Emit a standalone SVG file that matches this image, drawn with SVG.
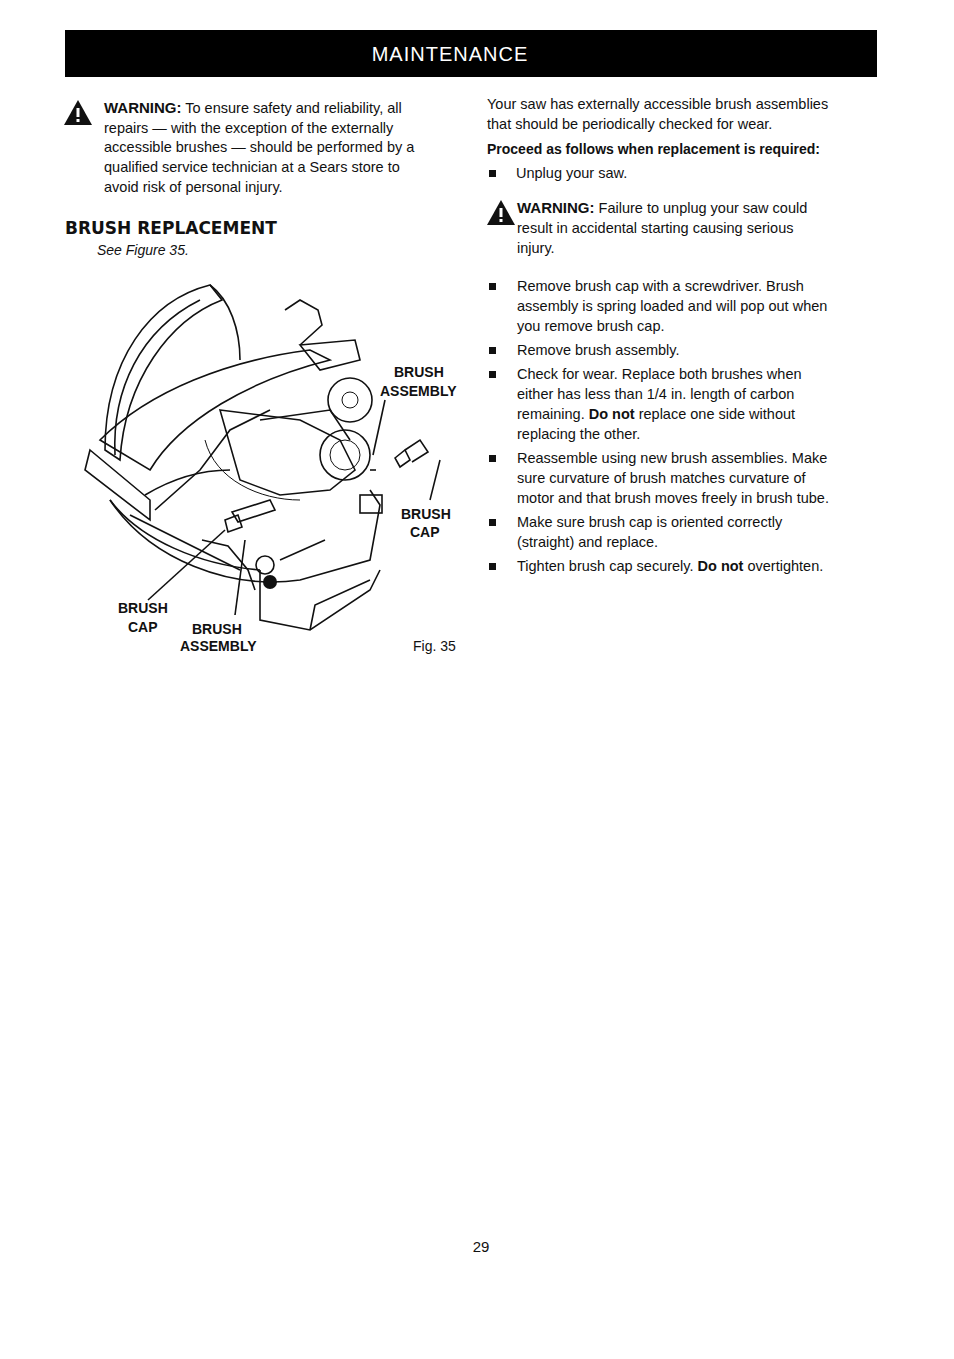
<svg xmlns="http://www.w3.org/2000/svg" width="954" height="1359" viewBox="0 0 954 1359">
<style>
text{font-family:"Liberation Sans",Arial,sans-serif;font-size:14.5px;fill:#111}
.b{font-weight:bold}
.lbl{font-family:"Liberation Sans",Arial,sans-serif;font-size:14px;font-weight:bold;transform-box:fill-box}
.ln{fill:none;stroke:#111;stroke-width:1.6}
.th{fill:none;stroke:#111;stroke-width:1}
</style>
<defs>
<g id="warn"><polygon points="14,0 28,25 0,25" fill="#111"/><rect x="12.5" y="8" width="3" height="9" fill="#fff"/><rect x="12.5" y="19" width="3" height="3" fill="#fff"/></g>
<rect id="sq" width="7" height="7" fill="#111"/>
</defs>
<rect width="954" height="1359" fill="#fff"/>
<rect x="65" y="30" width="812" height="47" fill="#000"/>
<text x="450" y="61" text-anchor="middle" style="fill:#fff;font-size:20px;letter-spacing:1px">MAINTENANCE</text>

<use href="#warn" x="64" y="100"/>
<text x="104" y="113"><tspan class="b" style="font-size:15px">WARNING:</tspan> To ensure safety and reliability, all</text>
<text x="104" y="133">repairs — with the exception of the externally</text>
<text x="104" y="152">accessible brushes — should be performed by a</text>
<text x="104" y="172">qualified service technician at a Sears store to</text>
<text x="104" y="192">avoid risk of personal injury.</text>
<text x="65" y="234" class="b" style="font-size:17px;font-family:'DejaVu Sans',sans-serif">BRUSH REPLACEMENT</text>
<text x="97" y="255" style="font-style:italic;font-size:14px">See Figure 35.</text>

<g id="figure">
<path class="ln" d="M105,450 C105,360 150,300 210,285 L222,300 C170,320 125,380 120,460 Z"/>
<path class="ln" d="M115,455 C112,390 140,330 200,300"/>
<path class="ln" d="M210,285 C230,300 240,330 240,360"/>
<path class="ln" d="M100,440 C150,390 230,360 310,350 L330,360 C250,380 180,420 150,470 Z"/>
<path class="ln" d="M300,345 L355,340 L360,360 L320,370 Z"/>
<path class="ln" d="M285,310 L300,300 L318,310 L322,325 L300,345"/>
<path class="ln" d="M90,450 L150,500 L150,520 L85,470 Z"/>
<path class="ln" d="M145,495 C170,480 200,470 230,470"/>
<path class="ln" d="M155,510 L200,470 L230,430 L270,410"/>
<path class="ln" d="M220,410 L300,420 L340,440 L355,470 L330,490 L280,495 L240,480 Z"/>
<path class="ln" d="M260,420 L330,410 L350,440"/>
<circle class="ln" cx="345" cy="455" r="25"/>
<circle class="th" cx="345" cy="455" r="15"/>
<circle class="ln" cx="350" cy="400" r="22"/>
<circle class="th" cx="350" cy="400" r="8"/>
<path class="ln" d="M110,500 C150,560 230,590 300,580 L370,560 L380,505 L370,490"/>
<path class="ln" d="M110,500 C140,540 200,565 260,570"/>
<path class="ln" d="M130,515 L240,570"/>
<path class="ln" d="M260,570 L260,620 L310,630 L370,590 L380,570"/>
<path class="ln" d="M310,630 L315,605 L370,580"/>
<circle cx="270" cy="582" r="7" fill="#111"/>
<circle class="ln" cx="265" cy="565" r="9"/>
<path class="ln" d="M280,560 L325,540"/>
<rect x="360" y="495" width="22" height="18" class="ln"/>
<path class="ln" d="M370,470 L376,470"/>
<path class="th" d="M205,440 C215,480 260,500 300,500"/>
<path class="ln" d="M232,512 L270,500 L275,510 L238,522 Z"/>
<path class="ln" d="M395,458 L405,450 L410,460 L400,467 Z"/>
<path class="ln" d="M405,450 L420,440 L428,452 L412,462"/>
<path class="ln" d="M225,520 L238,515 L242,527 L228,532 Z"/>
<path class="ln" d="M202,540 L228,546 L248,570 L255,590"/>
<line class="ln" x1="385" y1="400" x2="373" y2="455"/>
<line class="ln" x1="440" y1="460" x2="430" y2="500"/>
<line class="ln" x1="225" y1="530" x2="148" y2="600"/>
<line class="ln" x1="245" y1="540" x2="235" y2="615"/>
</g>

<text x="394" y="377" class="lbl">BRUSH</text>
<text x="380" y="396" class="lbl">ASSEMBLY</text>
<text x="401" y="519" class="lbl">BRUSH</text>
<text x="410" y="537" class="lbl">CAP</text>
<text x="118" y="613" class="lbl">BRUSH</text>
<text x="128" y="632" class="lbl">CAP</text>
<text x="192" y="634" class="lbl">BRUSH</text>
<text x="180" y="651" class="lbl">ASSEMBLY</text>
<text x="413" y="651" style="font-size:14px">Fig. 35</text>

<text x="487" y="109">Your saw has externally accessible brush assemblies</text>
<text x="487" y="129">that should be periodically checked for wear.</text>
<text x="487" y="154" class="b" style="font-size:14px">Proceed as follows when replacement is required:</text>
<use href="#sq" x="489" y="170"/>
<text x="516" y="178">Unplug your saw.</text>
<use href="#warn" x="487" y="200"/>
<text x="517" y="213"><tspan class="b" style="font-size:15px">WARNING:</tspan> Failure to unplug your saw could</text>
<text x="517" y="233">result in accidental starting causing serious</text>
<text x="517" y="253">injury.</text>
<use href="#sq" x="489" y="283"/>
<text x="517" y="291">Remove brush cap with a screwdriver. Brush</text>
<text x="517" y="311">assembly is spring loaded and will pop out when</text>
<text x="517" y="331">you remove brush cap.</text>
<use href="#sq" x="489" y="347"/>
<text x="517" y="355">Remove brush assembly.</text>
<use href="#sq" x="489" y="371"/>
<text x="517" y="379">Check for wear. Replace both brushes when</text>
<text x="517" y="399">either has less than 1/4 in. length of carbon</text>
<text x="517" y="419">remaining. <tspan class="b">Do not</tspan> replace one side without</text>
<text x="517" y="439">replacing the other.</text>
<use href="#sq" x="489" y="455"/>
<text x="517" y="463">Reassemble using new brush assemblies. Make</text>
<text x="517" y="483">sure curvature of brush matches curvature of</text>
<text x="517" y="503">motor and that brush moves freely in brush tube.</text>
<use href="#sq" x="489" y="519"/>
<text x="517" y="527">Make sure brush cap is oriented correctly</text>
<text x="517" y="547">(straight) and replace.</text>
<use href="#sq" x="489" y="563"/>
<text x="517" y="571">Tighten brush cap securely. <tspan class="b">Do not</tspan> overtighten.</text>

<text x="481" y="1252" text-anchor="middle" style="font-size:15px">29</text>
</svg>
